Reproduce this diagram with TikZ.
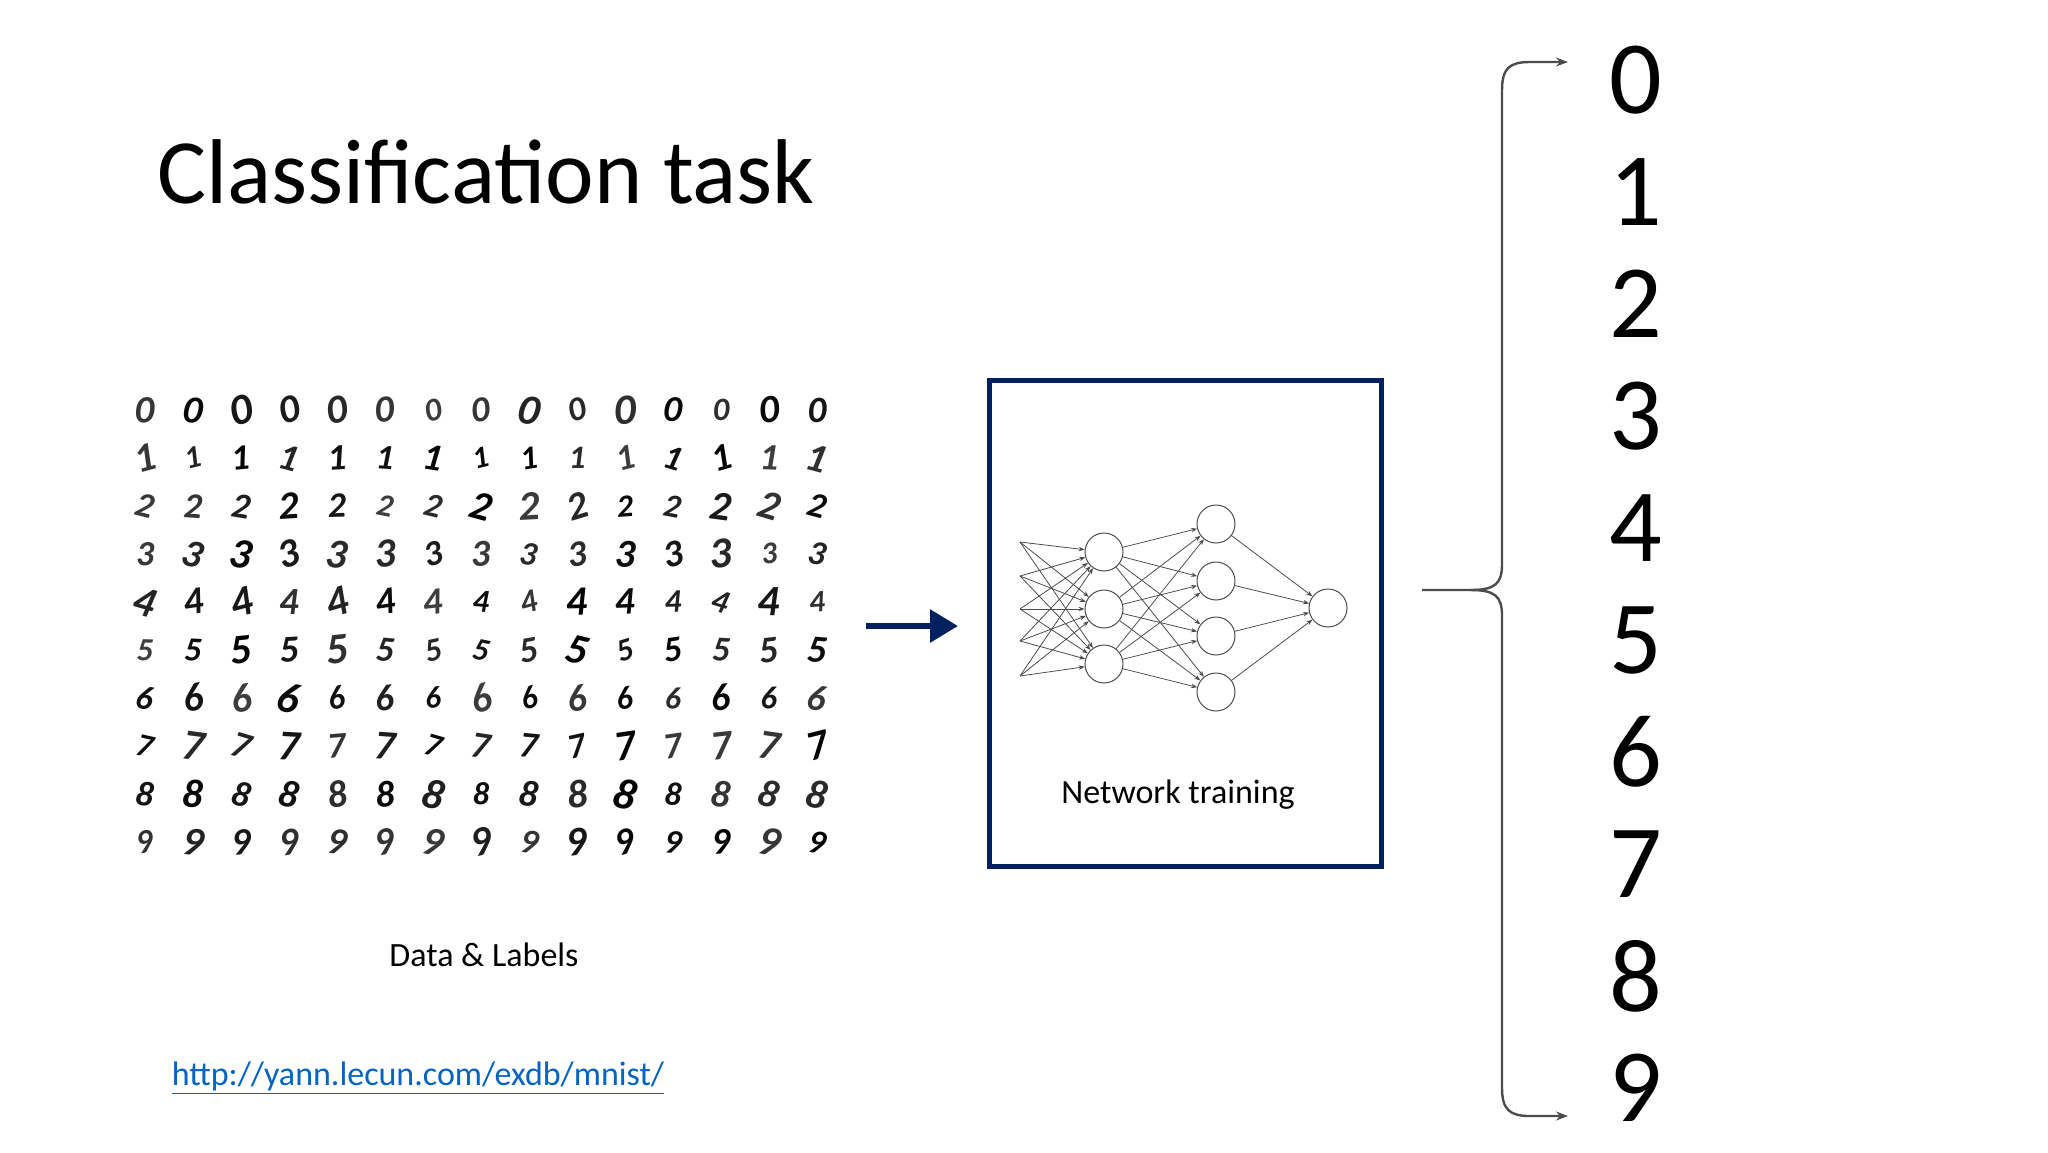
\documentclass[tikz,border=0pt]{standalone}
\usepackage{fontspec}
\setmainfont{Carlito}
\usetikzlibrary{arrows.meta}
\definecolor{navy}{RGB}{0,32,96}
\definecolor{linkblue}{RGB}{5,99,193}
\tikzset{neuron/.style={circle,draw=black!70,line width=0.5pt,minimum size=19pt,inner sep=0pt,fill=white},
 syn/.style={draw=black!70,line width=0.4pt,-{Stealth[length=3pt]}},
 outdigit/.style={font=\fontsize{52}{54}\selectfont,anchor=center},
 hand/.style={font=\fontsize{22}{22}\selectfont\itshape\bfseries}}
\begin{document}
\begin{tikzpicture}[x=0.5pt,y=-0.5pt]
\useasboundingbox (0,0) rectangle (2048,1152);
\node[anchor=base west,font=\fontsize{46}{50}\selectfont] (title) at (150,203) {Classification task};
% digit grid
\pgfmathsetseed{7}
\foreach \r in {0,...,9}{
 \foreach \c in {0,...,14}{
  \pgfmathsetmacro{\ang}{rand*18}
  \pgfmathsetmacro{\sc}{0.85+0.15*rand}
  \pgfmathsetmacro{\gr}{75+25*rnd}
  \node[hand,rotate=\ang,scale=\sc,text=black!\gr] (d\r-\c) at ({145+48*\c},{410+48*\r}) {\r};
 }}
\node[font=\fontsize{17}{20}\selectfont] (dl) at (484,955) {Data \& Labels};
\node[font=\fontsize{17}{20}\selectfont,text=linkblue] (link) at (418,1078) {\underline{http://yann.lecun.com/exdb/mnist/}};
% arrow
\coordinate (a1) at (866,626); \coordinate (a2) at (958,626);
\draw[navy,line width=3pt,-{Triangle[length=14pt,width=16pt]}] (a1) -- (a2);
% box
\node[draw=navy,line width=2.5pt,minimum width=196pt,minimum height=243pt,inner sep=0pt] (box) at (1185,623) {};
\node[font=\fontsize{17}{20}\selectfont] (nt) at (1178,795) {Network training};
% network
\begin{scope}[yshift=-2pt]
\foreach \i/\y in {1/538,2/572,3/605,4/637,5/672}{\coordinate (in\i) at (1020,\y);}
\foreach \i/\y in {1/548,2/605,3/660}{\node[neuron] (h\i) at (1104,\y) {};}
\foreach \i/\y in {1/520,2/577,3/632,4/688}{\node[neuron] (g\i) at (1216,\y) {};}
\node[neuron] (o) at (1328,604) {};
\end{scope}
\foreach \i in {1,...,5}{\foreach \j in {1,2,3}{\draw[syn] (in\i) -- (h\j);}}
\foreach \i in {1,2,3}{\foreach \j in {1,...,4}{\draw[syn] (h\i) -- (g\j);}}
\foreach \j in {1,...,4}{\draw[syn] (g\j) -- (o);}
% brace
\coordinate (bm) at (1422,590);
\coordinate (bt) at (1568,62);
\coordinate (bb) at (1568,1116);
\draw[black!70,line width=1.2pt,-{Stealth[length=6pt]}] (bm) -- (1470,590) .. controls (1495,590) and (1502,584) .. (1502,564) -- (1502,90) .. controls (1502,68) and (1510,62) .. (1530,62) -- (bt);
\draw[black!70,line width=1.2pt,-{Stealth[length=6pt]}] (1470,590) .. controls (1495,590) and (1502,596) .. (1502,616) -- (1502,1088) .. controls (1502,1110) and (1510,1116) .. (1530,1116) -- (bb);
\foreach \k in {0,...,9}{\node[outdigit] (n\k) at (1636,{80+112*\k}) {\k};}
\end{tikzpicture}
\end{document}
